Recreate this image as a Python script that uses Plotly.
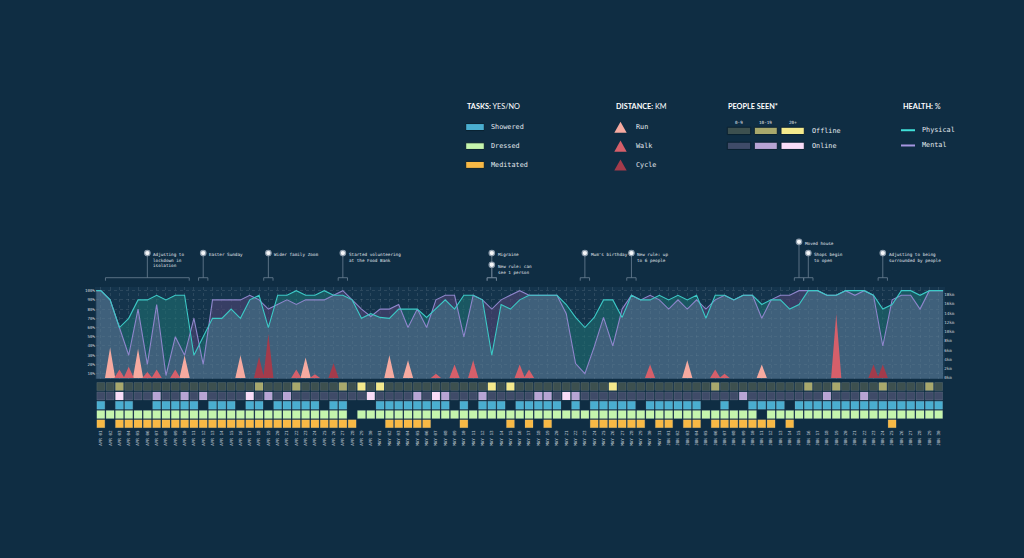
import plotly.graph_objects as go
import pandas as pd

W, H = 1024, 558

# ---------------- data ----------------
dates = pd.date_range("2020-04-01", "2020-06-30", freq="D")
date_labels = [d.strftime("%b %d").upper() for d in dates]
days = list(range(len(dates)))

physical = [100, 90, 60, 70, 90, 90, 95, 90, 95, 95,
            30, 50, 70, 70, 80, 70, 90, 95, 60, 95,
            95, 100, 95, 95, 100, 95, 95, 90, 70, 75,
            71, 70, 80, 80, 80, 71, 80, 90, 80, 95,
            95, 90, 30, 85, 80, 90, 95, 95, 95, 95,
            85, 71, 60, 71, 90, 90, 71, 95, 90, 90,
            95, 90, 95, 90, 95, 70, 95, 95, 90, 95,
            95, 85, 90, 90, 80, 85, 100, 100, 95, 95,
            100, 100, 100, 95, 80, 85, 100, 100, 95, 100,
            100]
mental = [100, 90, 60, 30, 80, 20, 85, 8, 50, 30,
          70, 20, 90, 90, 90, 90, 95, 90, 80, 85,
          90, 85, 90, 90, 90, 95, 100, 90, 80, 72,
          80, 80, 85, 60, 80, 60, 90, 95, 95, 50,
          95, 90, 80, 90, 95, 100, 95, 95, 95, 95,
          75, 21, 10, 39, 71, 40, 80, 95, 90, 95,
          90, 80, 90, 80, 90, 80, 90, 95, 90, 95,
          95, 70, 90, 95, 95, 100, 100, 100, 95, 95,
          100, 95, 100, 95, 40, 90, 95, 95, 80, 100,
          100]

run_days = [1, 4, 9, 15, 22, 31, 33, 63, 71]
run_km = [6.6, 6.3, 4.9, 4.9, 4.4, 4.9, 3.8, 3.8, 2.9]
walk_days = [2, 3, 5, 6, 8, 21, 23, 36, 38, 40, 45, 46, 59, 66, 67, 79]
walk_km = [1.8, 2.4, 1.3, 1.8, 1.8, 1.8, 0.8, 0.9, 2.9, 3.8, 2.9, 1.8, 2.9, 1.8, 0.9, 13.8]
cycle_days = [17, 18, 25, 83, 84]
cycle_km = [4.6, 9.5, 3.2, 2.9, 2.9]

# people seen: 0 = 0-9, 1 = 10-19, 2 = 20+
offline = [0, 0, 1, 0, 0, 0, 0, 0, 0, 0,
           0, 0, 0, 0, 0, 0, 0, 1, 0, 0,
           0, 1, 0, 0, 0, 0, 1, 0, 2, 0,
           2, 0, 0, 0, 0, 0, 0, 0, 0, 0,
           0, 0, 2, 0, 2, 0, 0, 0, 0, 0,
           0, 0, 0, 0, 0, 2, 0, 0, 0, 0,
           0, 0, 0, 0, 0, 0, 1, 0, 0, 0,
           0, 0, 0, 0, 0, 0, 1, 0, 0, 1,
           0, 0, 0, 0, 1, 0, 0, 0, 0, 1,
           0]
online = [0, 0, 2, 0, 0, 0, 1, 0, 0, 1,
          0, 1, 0, 0, 0, 0, 2, 0, 1, 0,
          1, 0, 0, 0, 0, 0, 0, 0, 0, 2,
          0, 0, 0, 0, 1, 0, 2, 1, 0, 0,
          0, 1, 0, 0, 0, 0, 0, 1, 1, 0,
          2, 1, 0, 0, 0, 0, 0, 0, 0, 0,
          0, 0, 0, 0, 0, 0, 0, 0, 0, 1,
          0, 0, 0, 0, 0, 0, 0, 0, 1, 0,
          0, 0, 1, 0, 0, 0, 0, 0, 0, 0,
          0]
showered = [1, 0, 1, 1, 0, 0, 1, 1, 1, 1,
            1, 0, 1, 1, 1, 0, 1, 1, 0, 1,
            1, 1, 1, 1, 0, 1, 1, 0, 0, 0,
            1, 1, 1, 1, 1, 1, 1, 1, 0, 1,
            0, 1, 1, 1, 0, 1, 1, 1, 1, 1,
            0, 1, 0, 1, 1, 1, 1, 1, 0, 1,
            1, 1, 1, 1, 1, 0, 0, 1, 0, 0,
            1, 1, 1, 1, 0, 1, 1, 1, 1, 1,
            1, 1, 1, 1, 1, 1, 1, 1, 1, 1,
            1]
dressed = [1, 1, 1, 1, 1, 1, 1, 1, 1, 1,
           1, 1, 1, 1, 1, 1, 1, 1, 1, 1,
           1, 1, 1, 1, 1, 1, 1, 0, 1, 1,
           1, 1, 1, 1, 1, 1, 1, 1, 1, 1,
           1, 1, 1, 1, 1, 1, 1, 1, 1, 1,
           1, 1, 1, 1, 1, 1, 1, 1, 1, 1,
           1, 1, 1, 1, 1, 1, 1, 1, 1, 1,
           1, 0, 1, 1, 1, 1, 1, 1, 1, 1,
           1, 1, 1, 1, 1, 1, 1, 1, 1, 1,
           1]
meditated = [1, 0, 1, 1, 1, 1, 1, 1, 1, 1,
             1, 1, 1, 1, 1, 1, 1, 1, 1, 1,
             1, 1, 1, 1, 1, 1, 1, 1, 0, 0,
             0, 1, 1, 1, 1, 1, 0, 0, 0, 1,
             0, 0, 0, 0, 1, 0, 1, 0, 1, 0,
             0, 0, 0, 1, 1, 1, 1, 1, 1, 0,
             1, 1, 0, 1, 1, 0, 1, 1, 1, 1,
             1, 1, 1, 0, 1, 0, 0, 0, 0, 0,
             0, 0, 0, 0, 0, 1, 0, 0, 0, 0,
             0]

# events: (first day, last day, text, level)
event_start = [1, 11, 18, 26, 42, 42, 52, 57, 75, 76, 84]
event_end = [9, 11, 18, 26, 42, 42, 52, 57, 75, 76, 84]
event_text = ["Adjusting to<br>lockdown in<br>isolation", "Easter Sunday", "Wider family Zoom",
              "Started volunteering<br>at the Food Bank", "Migraine", "New rule: can<br>see 1 person",
              "Mum's birthday", "New rule: up<br>to 6 people", "Moved house",
              "Shops begin<br>to open", "Adjusting to being<br>surrounded by people"]
event_level = [0, 0, 0, 0, 0, 1, 0, 0, -1, 0, 0]

# ---------------- style ----------------
BG = "#0f2d43"
PLOT_BG = "#14344c"
GRID = "rgba(255,255,255,0.10)"
BASE = "rgba(90,125,152,0.62)"
TEAL = "rgba(30,110,112,0.62)"
PURP = "rgba(78,69,115,0.62)"
PHYS = "#3cc9c6"
MENT = "#8f86cc"
RUN_C, WALK_C, CYC_C = "#f6aaa0", "#d65f6a", "#a33b4b"
OFF_C = ["#3d504f", "#a8a86c", "#f4e98c"]
ON_C = ["#3f4b68", "#b7a4d4", "#f9dcf7"]
SHOW_C, DRESS_C, MED_C = "#4aaed0", "#c5f5ad", "#f8b945"
MONO = "DejaVu Sans Mono"
TXT = "#e2e8ee"

X0, X1 = 96.15, 943.3
CH_T, CH_B = 288, 380
GR_T, GR_B = 383.3, 430
AN_T, AN_B = 236, 288
LEVEL_Y = {0: 254, 1: 265.7, -1: 242.7}
BR_TOP, BR_BOT = 278.7, 281.7

# ---------------- build fills with crossings ----------------
xs = [-0.5] + days + [len(days) - 0.5]
ps = [physical[0]] + physical + [physical[-1]]
ms = [mental[0]] + mental + [mental[-1]]
X, P, M = [], [], []
for k in range(len(xs)):
    if k > 0:
        d0 = ps[k - 1] - ms[k - 1]
        d1 = ps[k] - ms[k]
        if d0 * d1 < 0:
            t = d0 / (d0 - d1)
            xc = xs[k - 1] + t * (xs[k] - xs[k - 1])
            yc = ps[k - 1] + t * (ps[k] - ps[k - 1])
            X.append(xc); P.append(yc); M.append(yc)
    X.append(xs[k]); P.append(ps[k]); M.append(ms[k])
LO = [min(a, b) for a, b in zip(P, M)]

fig = go.Figure()
common = dict(mode="lines", hoverinfo="skip", showlegend=False)
fig.add_trace(go.Scatter(x=X, y=LO, fill="tozeroy", fillcolor=BASE, line=dict(width=0), **common))
fig.add_trace(go.Scatter(x=X, y=P, fill="tonexty", fillcolor=TEAL, line=dict(width=0), **common))
fig.add_trace(go.Scatter(x=X, y=LO, line=dict(width=0), **common))
fig.add_trace(go.Scatter(x=X, y=M, fill="tonexty", fillcolor=PURP, line=dict(width=0), **common))


def tri(dd, kk):
    tx, ty = [], []
    for d, k in zip(dd, kk):
        tx += [d - 0.55, d, d + 0.55, None]
        ty += [0, k, 0, None]
    return tx, ty


for dd, kk, col in [(run_days, run_km, RUN_C), (walk_days, walk_km, WALK_C), (cycle_days, cycle_km, CYC_C)]:
    tx, ty = tri(dd, kk)
    fig.add_trace(go.Scatter(x=tx, y=ty, yaxis="y2", fill="toself", fillcolor=col,
                             line=dict(width=0), **common))

fig.add_trace(go.Scatter(x=xs, y=ms, line=dict(color=MENT, width=1.1), **common))
fig.add_trace(go.Scatter(x=xs, y=ps, line=dict(color=PHYS, width=1.1), **common))

# ---------------- cells ----------------
def cell_row(row, xv, colors):
    fig.add_trace(go.Scatter(x=xv, y=[row] * len(xv), xaxis="x2", yaxis="y3", mode="markers",
                             marker=dict(symbol="square", size=8, color=colors,
                                         line=dict(color="rgba(255,255,255,0.14)", width=0.8)),
                             hoverinfo="skip", showlegend=False))


cell_row(0, days, [OFF_C[v] for v in offline])
cell_row(1, days, [ON_C[v] for v in online])
cell_row(2, [d for d in days if showered[d]], SHOW_C)
cell_row(3, [d for d in days if dressed[d]], DRESS_C)
cell_row(4, [d for d in days if meditated[d]], MED_C)

# ---------------- events ----------------
bx, by, cx, cy, dx, dy = [], [], [], [], [], []
for s, e, lv in zip(event_start, event_end, event_level):
    bx += [s - 0.5, s - 0.5, e + 0.5, e + 0.5, None]
    by += [BR_BOT, BR_TOP, BR_TOP, BR_BOT, None]
    c = (s + e) / 2
    cx += [c, c, None]
    cy += [LEVEL_Y[lv], BR_TOP, None]
    dx.append(c); dy.append(LEVEL_Y[lv])
LN = "#6c8194"
fig.add_trace(go.Scatter(x=bx, y=by, xaxis="x3", yaxis="y4", line=dict(color=LN, width=0.8), **common))
fig.add_trace(go.Scatter(x=cx, y=cy, xaxis="x3", yaxis="y4", line=dict(color=LN, width=0.8), **common))
fig.add_trace(go.Scatter(x=dx, y=dy, xaxis="x3", yaxis="y4", mode="markers",
                         marker=dict(size=5.5, color="#f4f6f8", line=dict(color="#8a9aaa", width=1.2)),
                         hoverinfo="skip", showlegend=False))

annotations = []
for s, e, txt, lv in zip(event_start, event_end, event_text, event_level):
    annotations.append(dict(x=(s + e) / 2, y=LEVEL_Y[lv], xref="x3", yref="y4", text=txt,
                            showarrow=False, xanchor="left", yanchor="top", align="left",
                            xshift=4, yshift=3.2, font=dict(family=MONO, size=4.3, color=TXT)))

# ---------------- legend ----------------
def px(x):
    return x / W


def py(y):
    return 1 - y / H


shapes = [dict(type="rect", xref="paper", yref="paper", x0=px(95), x1=px(945), y0=py(CH_B), y1=py(CH_T),
               fillcolor=PLOT_BG, line=dict(width=0), layer="below")]


def lrect(x0, y0, x1, y1, col):
    shapes.append(dict(type="rect", xref="paper", yref="paper", x0=px(x0), x1=px(x1), y0=py(y1), y1=py(y0),
                       fillcolor=col, line=dict(color="#0a2131", width=1), layer="above"))


def ltext(x, y, txt, size=6.8, fam=MONO, anchor="left", col=TXT):
    annotations.append(dict(x=px(x), y=py(y), xref="paper", yref="paper", text=txt, showarrow=False,
                            xanchor=anchor, yanchor="middle", font=dict(family=fam, size=size, color=col)))


TITLE_F = "Lato"
ltext(465, 107.3, "<b>TASKS:</b> YES/NO", size=7.3, fam=TITLE_F, col="#ffffff")
for (y0, y1), col, lab in zip([(124, 131), (143.3, 150), (162, 169)], [SHOW_C, DRESS_C, MED_C],
                              ["Showered", "Dressed", "Meditated"]):
    lrect(465.7, y0, 484.3, y1, col)
    ltext(489, (y0 + y1) / 2, lab)

ltext(613.5, 107.3, "<b>DISTANCE:</b> KM", size=7.3, fam=TITLE_F, col="#ffffff")
for (yt, yb), col, lab in zip([(122.3, 133.3), (141, 152.3), (160, 171)], [RUN_C, WALK_C, CYC_C],
                              ["Run", "Walk", "Cycle"]):
    shapes.append(dict(type="path", xref="paper", yref="paper",
                       path=f"M {px(614.3)} {py(yb)} L {px(626.7)} {py(yb)} L {px(620.5)} {py(yt)} Z",
                       fillcolor=col, line=dict(width=0), layer="above"))
    ltext(633.5, (yt + yb) / 2, lab)

ltext(726, 107.3, "<b>PEOPLE SEEN*</b>", size=7.3, fam=TITLE_F, col="#ffffff")
cols_x = [(727.3, 750.7), (754.3, 777.3), (781, 804.3)]
for (x0, x1), lab in zip(cols_x, ["0-9", "10-19", "20+"]):
    ltext((x0 + x1) / 2, 123, lab, size=4.3, anchor="center")
for (y0, y1), pal, lab in zip([(127.7, 135), (142.7, 150)], [OFF_C, ON_C], ["Offline", "Online"]):
    for (x0, x1), col in zip(cols_x, pal):
        lrect(x0, y0, x1, y1, col)
    ltext(810, (y0 + y1) / 2, lab)

ltext(900.5, 107.3, "<b>HEALTH:</b> %", size=7.3, fam=TITLE_F, col="#ffffff")
for yy, col, lab in zip([130.7, 146], ["#40e0d8", "#a596e0"], ["Physical", "Mental"]):
    shapes.append(dict(type="line", xref="paper", yref="paper", x0=px(901), x1=px(915), y0=py(yy), y1=py(yy),
                       line=dict(color=col, width=2), layer="above"))
    ltext(920, yy, lab)

TICKF = dict(family=MONO, size=4.2, color="#cfd6dd")
fig.update_layout(
    width=W, height=H, autosize=False, margin=dict(l=0, r=0, t=0, b=0),
    paper_bgcolor=BG, plot_bgcolor=BG, showlegend=False,
    xaxis=dict(domain=[px(X0), px(X1)], range=[-0.5, 90.5], anchor="y", tickvals=days,
               showticklabels=False, ticks="", showgrid=True, gridcolor=GRID, griddash="dot",
               zeroline=False, showline=False, fixedrange=True),
    yaxis=dict(domain=[py(CH_B), py(CH_T)], range=[4.6, 104], anchor="x",
               tickvals=list(range(10, 101, 10)), ticktext=[f"{v}%" for v in range(10, 101, 10)],
               tickfont=TICKF, ticks="", showgrid=True, gridcolor=GRID, griddash="dot",
               zeroline=False, showline=False),
    yaxis2=dict(overlaying="y", side="right", anchor="x", range=[-0.15, 19.66],
                tickvals=list(range(0, 19, 2)), ticktext=[f"{v}km" for v in range(0, 19, 2)],
                tickfont=TICKF, ticks="", showgrid=False, zeroline=False, showline=False),
    xaxis2=dict(domain=[px(X0), px(X1)], range=[-0.5, 90.5], anchor="y3", tickvals=days,
                ticktext=date_labels, tickangle=-90, ticks="", showgrid=False, zeroline=False,
                showline=False, tickfont=dict(family=MONO, size=4.3, color="#c0cad3")),
    yaxis3=dict(domain=[py(GR_B), py(GR_T)], range=[4.5, -0.5], anchor="x2", visible=False),
    xaxis3=dict(domain=[px(X0), px(X1)], range=[-0.5, 90.5], anchor="y4", visible=False),
    yaxis4=dict(domain=[py(AN_B), py(AN_T)], range=[AN_B, AN_T], anchor="x3", visible=False),
    shapes=shapes, annotations=annotations,
)

fig.write_html("out.html", config={"displayModeBar": False},
               post_script=f"document.body.style.margin='0px';document.body.style.background='{BG}';")
